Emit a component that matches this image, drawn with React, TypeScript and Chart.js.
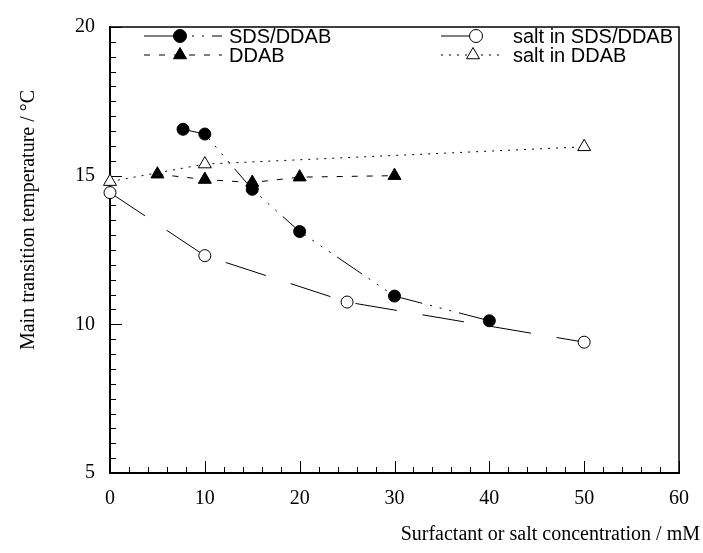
import React, { useEffect, useRef } from 'react';
import { Chart, registerables } from 'chart.js';

Chart.register(...registerables);

// ---- data ----
const sdsX = [7.7, 10, 15, 20, 30, 40];
const sdsY = [16.56, 16.4, 14.54, 13.12, 10.95, 10.12];
const ddabX = [5, 10, 15, 20, 30];
const ddabY = [15.05, 14.87, 14.77, 14.95, 15.0];
const saltSdsX = [0, 10, 25, 50];
const saltSdsY = [14.43, 12.31, 10.75, 9.4];
const saltDdabX = [0, 10, 50];
const saltDdabY = [14.8, 15.39, 15.97];

const seriesLabels = ['SDS/DDAB', 'DDAB', 'salt in SDS/DDAB', 'salt in DDAB'];
const xTickValues = [0, 10, 20, 30, 40, 50, 60];
const yTickValues = [5, 10, 15, 20];
const xMinorStep = 2;
const yMinorStep = 0.5;
const xTitle = 'Surfactant or salt concentration / mM';
const yTitle = 'Main transition temperature / °C';

const SERIF = "'Liberation Serif', 'Times New Roman', serif";
const SANS = "'Liberation Sans', Arial, Helvetica, sans-serif";

function toPoints(xs: number[], ys: number[]) {
  return xs.map((x, i) => ({ x, y: ys[i] }));
}

function drawMarker(ctx: CanvasRenderingContext2D, style: string, filled: boolean, x: number, y: number, r: number) {
  ctx.save();
  ctx.setLineDash([]);
  ctx.lineWidth = 1;
  ctx.strokeStyle = '#000';
  ctx.fillStyle = filled ? '#000' : '#fff';
  ctx.beginPath();
  if (style === 'circle') {
    ctx.arc(x, y, r, 0, Math.PI * 2);
  } else {
    let rad = 0;
    ctx.moveTo(x + Math.sin(rad) * r, y - Math.cos(rad) * r);
    rad += (2 * Math.PI) / 3;
    ctx.lineTo(x + Math.sin(rad) * r, y - Math.cos(rad) * r);
    rad += (2 * Math.PI) / 3;
    ctx.lineTo(x + Math.sin(rad) * r, y - Math.cos(rad) * r);
    ctx.closePath();
  }
  ctx.fill();
  ctx.stroke();
  ctx.restore();
}

const framePlugin = {
  id: 'frame',
  beforeDatasetsDraw(chart: any) {
    const { ctx, chartArea } = chart;
    const { left, right, top, bottom } = chartArea;
    const xs = chart.scales.x;
    const ys = chart.scales.y;
    ctx.save();
    ctx.strokeStyle = '#000';
    ctx.lineWidth = 1;
    ctx.beginPath();
    for (let v = xs.min; v <= xs.max + 1e-9; v += xMinorStep) {
      const px = Math.round(xs.getPixelForValue(v)) + 0.5;
      const major = xTickValues.some((t) => Math.abs(t - v) < 1e-6);
      const len = major ? 12 : 6;
      ctx.moveTo(px, bottom);
      ctx.lineTo(px, bottom - len);
    }
    for (let v = ys.min; v <= ys.max + 1e-9; v += yMinorStep) {
      const py = Math.round(ys.getPixelForValue(v)) + 0.5;
      const major = yTickValues.some((t) => Math.abs(t - v) < 1e-6);
      const len = major ? 12 : 6;
      ctx.moveTo(left, py);
      ctx.lineTo(left + len, py);
    }
    ctx.stroke();
    // borders
    ctx.lineWidth = 1.5;
    ctx.beginPath();
    ctx.moveTo(left, top);
    ctx.lineTo(right, top);
    ctx.lineTo(right, bottom);
    ctx.stroke();
    ctx.lineWidth = 2;
    ctx.beginPath();
    ctx.moveTo(left, top - 1);
    ctx.lineTo(left, bottom);
    ctx.lineTo(right + 1, bottom);
    ctx.stroke();
    ctx.restore();
  },
  afterDraw(chart: any) {
    const { ctx } = chart;
    ctx.save();
    ctx.fillStyle = '#000';
    ctx.font = `20px ${SERIF}`;
    ctx.textAlign = 'right';
    ctx.textBaseline = 'middle';
    ctx.fillText(xTitle, 700, 535);
    ctx.translate(29, 220);
    ctx.rotate(-Math.PI / 2);
    ctx.textAlign = 'center';
    ctx.fillText(yTitle, 0, 0);
    ctx.restore();
  },
};

const legendLayout = [
  { x0: 144, x1: 222, mx: 180, y: 36, tx: 229 },
  { x0: 144, x1: 222, mx: 180, y: 55, tx: 229 },
  { x0: 441, x1: 506, mx: 476, y: 36, tx: 513 },
  { x0: 441, x1: 500, mx: 473, y: 55, tx: 513 },
];

const legendPlugin = {
  id: 'customLegend',
  afterDatasetsDraw(chart: any) {
    const { ctx } = chart;
    chart.data.datasets.forEach((ds: any, i: number) => {
      const L = legendLayout[i];
      ctx.save();
      ctx.strokeStyle = '#000';
      ctx.lineWidth = ds.borderWidth;
      ctx.setLineDash(ds.borderDash || []);
      ctx.beginPath();
      ctx.moveTo(L.x0, L.y);
      ctx.lineTo(L.x1, L.y);
      ctx.stroke();
      ctx.restore();
      const filled = ds.pointBackgroundColor === '#000';
      const r = ds.pointStyle === 'circle' ? ds.pointRadius + 0.5 : ds.pointRadius;
      drawMarker(ctx, ds.pointStyle, filled, L.mx, L.y, r);
      ctx.save();
      ctx.fillStyle = '#000';
      ctx.font = `20px ${SANS}`;
      ctx.textAlign = 'left';
      ctx.textBaseline = 'middle';
      ctx.fillText(ds.label, L.tx, L.y + 1);
      ctx.restore();
    });
  },
};

export default function App() {
  const canvasRef = useRef<HTMLCanvasElement | null>(null);

  useEffect(() => {
    document.body.style.margin = '0';
    const canvas = canvasRef.current;
    if (!canvas) return;
    const common = {
      showLine: true,
      fill: false,
      tension: 0,
      borderColor: '#000',
      borderWidth: 1,
      pointBorderColor: '#000',
      pointBorderWidth: 1,
      clip: false,
    };
    const chart = new Chart(canvas, {
      type: 'scatter',
      data: {
        datasets: [
          {
            ...common,
            label: seriesLabels[0],
            data: toPoints(sdsX, sdsY),
            borderDash: [30, 8, 2, 8, 2, 8, 2, 8],
            pointStyle: 'circle',
            pointRadius: 6,
            pointBackgroundColor: '#000',
          },
          {
            ...common,
            label: seriesLabels[1],
            data: toPoints(ddabX, ddabY),
            borderDash: [6, 9],
            pointStyle: 'triangle',
            pointRadius: 7.5,
            pointBackgroundColor: '#000',
          },
          {
            ...common,
            label: seriesLabels[2],
            data: toPoints(saltSdsX, saltSdsY),
            borderDash: [42, 26],
            pointStyle: 'circle',
            pointRadius: 6,
            pointBackgroundColor: '#fff',
          },
          {
            ...common,
            label: seriesLabels[3],
            data: toPoints(saltDdabX, saltDdabY),
            borderDash: [2, 6],
            pointStyle: 'triangle',
            pointRadius: 7.5,
            pointBackgroundColor: '#fff',
          },
        ] as any,
      },
      options: {
        responsive: false,
        animation: false,
        devicePixelRatio: 1,
        layout: { padding: { left: 0, right: 17, top: 20, bottom: 0 } },
        plugins: {
          legend: { display: false },
          tooltip: { enabled: false },
        },
        scales: {
          x: {
            type: 'linear',
            min: 0,
            max: 60,
            afterFit: (s: any) => {
              s.height = 80;
            },
            afterBuildTicks: (s: any) => {
              s.ticks = xTickValues.map((v) => ({ value: v }));
            },
            grid: { display: false, drawTicks: false },
            border: { display: false },
            ticks: {
              color: '#000',
              font: { family: SERIF, size: 20 },
              padding: 14,
              maxRotation: 0,
              autoSkip: false,
            },
          },
          y: {
            type: 'linear',
            min: 5,
            max: 20,
            afterFit: (s: any) => {
              s.width = 110;
            },
            afterBuildTicks: (s: any) => {
              s.ticks = yTickValues.map((v) => ({ value: v }));
            },
            grid: { display: false, drawTicks: false },
            border: { display: false },
            ticks: {
              color: '#000',
              font: { family: SERIF, size: 20 },
              padding: 15,
              autoSkip: false,
            },
          },
        },
      } as any,
      plugins: [framePlugin, legendPlugin],
    });
    return () => chart.destroy();
  }, []);

  return (
    <div style={{ position: 'absolute', left: 0, top: 0, width: 703, height: 553, background: '#fff' }}>
      <canvas ref={canvasRef} width={703} height={553} style={{ width: 703, height: 553 }} />
    </div>
  );
}
